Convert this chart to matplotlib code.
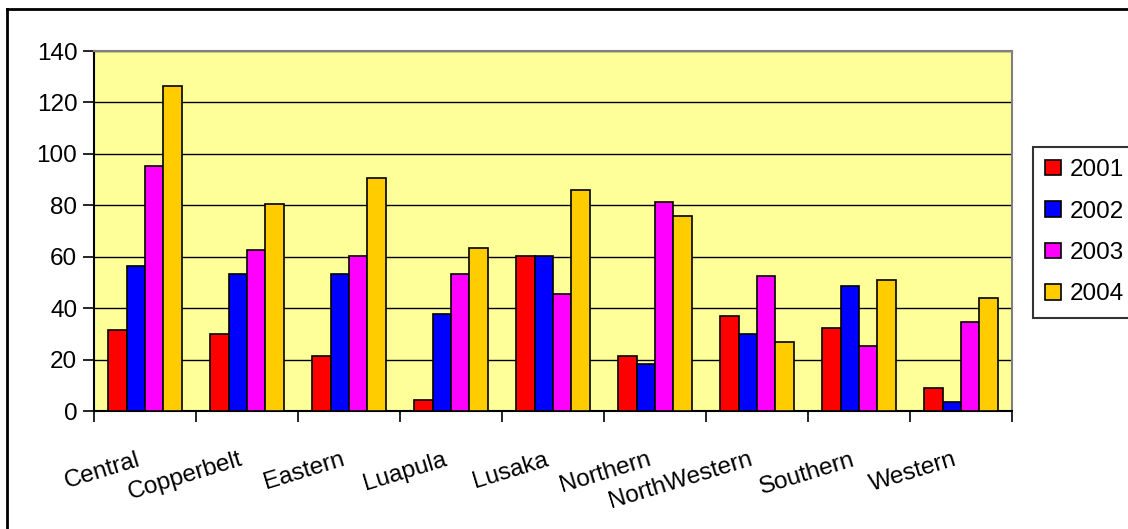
import matplotlib

matplotlib.use("Agg")
import matplotlib.pyplot as plt
import numpy as np
from matplotlib.lines import Line2D

plt.rcParams["font.family"] = ["Liberation Sans", "DejaVu Sans"]

provinces = ["Central", "Copperbelt", "Eastern", "Luapula", "Lusaka",
             "Northern", "NorthWestern", "Southern", "Western"]
years = ["2001", "2002", "2003", "2004"]
vals_2001 = [31.6, 30.1, 21.5, 4.4, 60.4, 21.5, 37.1, 32.4, 9.1]
vals_2002 = [56.5, 53.4, 53.4, 37.9, 60.4, 18.4, 30.1, 48.7, 3.6]
vals_2003 = [95.4, 62.7, 60.4, 53.4, 45.6, 81.4, 52.6, 25.4, 34.7]
vals_2004 = [126.5, 80.6, 90.7, 63.5, 86.1, 76.0, 27.0, 51.1, 44.1]
series = [vals_2001, vals_2002, vals_2003, vals_2004]
colors = ["#FF0000", "#0000FF", "#FF00FF", "#FFCC00"]

W, H = 1128, 529
fig = plt.figure(figsize=(W / 100, H / 100), dpi=100)
ax = fig.add_axes([94 / W, (H - 411) / H, 918 / W, 360 / H])
ax.set_facecolor("#FFFF99")

x = np.arange(len(provinces))
bar_w = 0.18
for i, (vals, col, yr) in enumerate(zip(series, colors, years)):
    ax.bar(x + (i - 1.5) * bar_w, vals, width=bar_w, color=col,
           edgecolor="black", linewidth=1.2, label=yr, zorder=3)

ax.set_xlim(-0.5, len(provinces) - 0.5)
ax.set_ylim(0, 140)
ax.set_yticks(range(0, 141, 20))
ax.tick_params(axis="y", labelsize=17.5, length=8, width=1.2, direction="out", pad=4)
ax.yaxis.grid(True, color="black", linewidth=1, zorder=1)
ax.set_axisbelow(True)

# category ticks sit on the group boundaries, labels on the group centres
ax.set_xticks(np.arange(len(provinces) + 1) - 0.5)
ax.set_xticklabels([])
ax.tick_params(axis="x", length=8, width=1.2, direction="out")
for xi, name in zip(x, provinces):
    ax.annotate(name, xy=(xi, 0), xycoords=("data", "axes fraction"),
                xytext=(-6, -27), textcoords="offset points",
                ha="right", va="top", rotation=17, rotation_mode="anchor",
                fontsize=17.5)

for side in ("left", "bottom"):
    ax.spines[side].set_color("black")
    ax.spines[side].set_linewidth(1.5)
for side in ("top", "right"):
    ax.spines[side].set_color("#808080")
    ax.spines[side].set_linewidth(1.5)

leg = fig.legend(loc="upper left", bbox_to_anchor=(1033 / W, (H - 147) / H),
                 fontsize=17.5, frameon=True, fancybox=False, edgecolor="black",
                 handlelength=0.65, handleheight=0.6, handletextpad=0.35,
                 labelspacing=0.8, borderpad=0.5, borderaxespad=0)
leg.get_frame().set_linewidth(1.5)

# chart area border
fig.add_artist(Line2D([7 / W, 1], [(H - 9) / H, (H - 9) / H],
                      transform=fig.transFigure, color="black", linewidth=2))
fig.add_artist(Line2D([7 / W, 7 / W], [0, (H - 9) / H],
                      transform=fig.transFigure, color="black", linewidth=2))

fig.savefig("out.png", dpi=100)
